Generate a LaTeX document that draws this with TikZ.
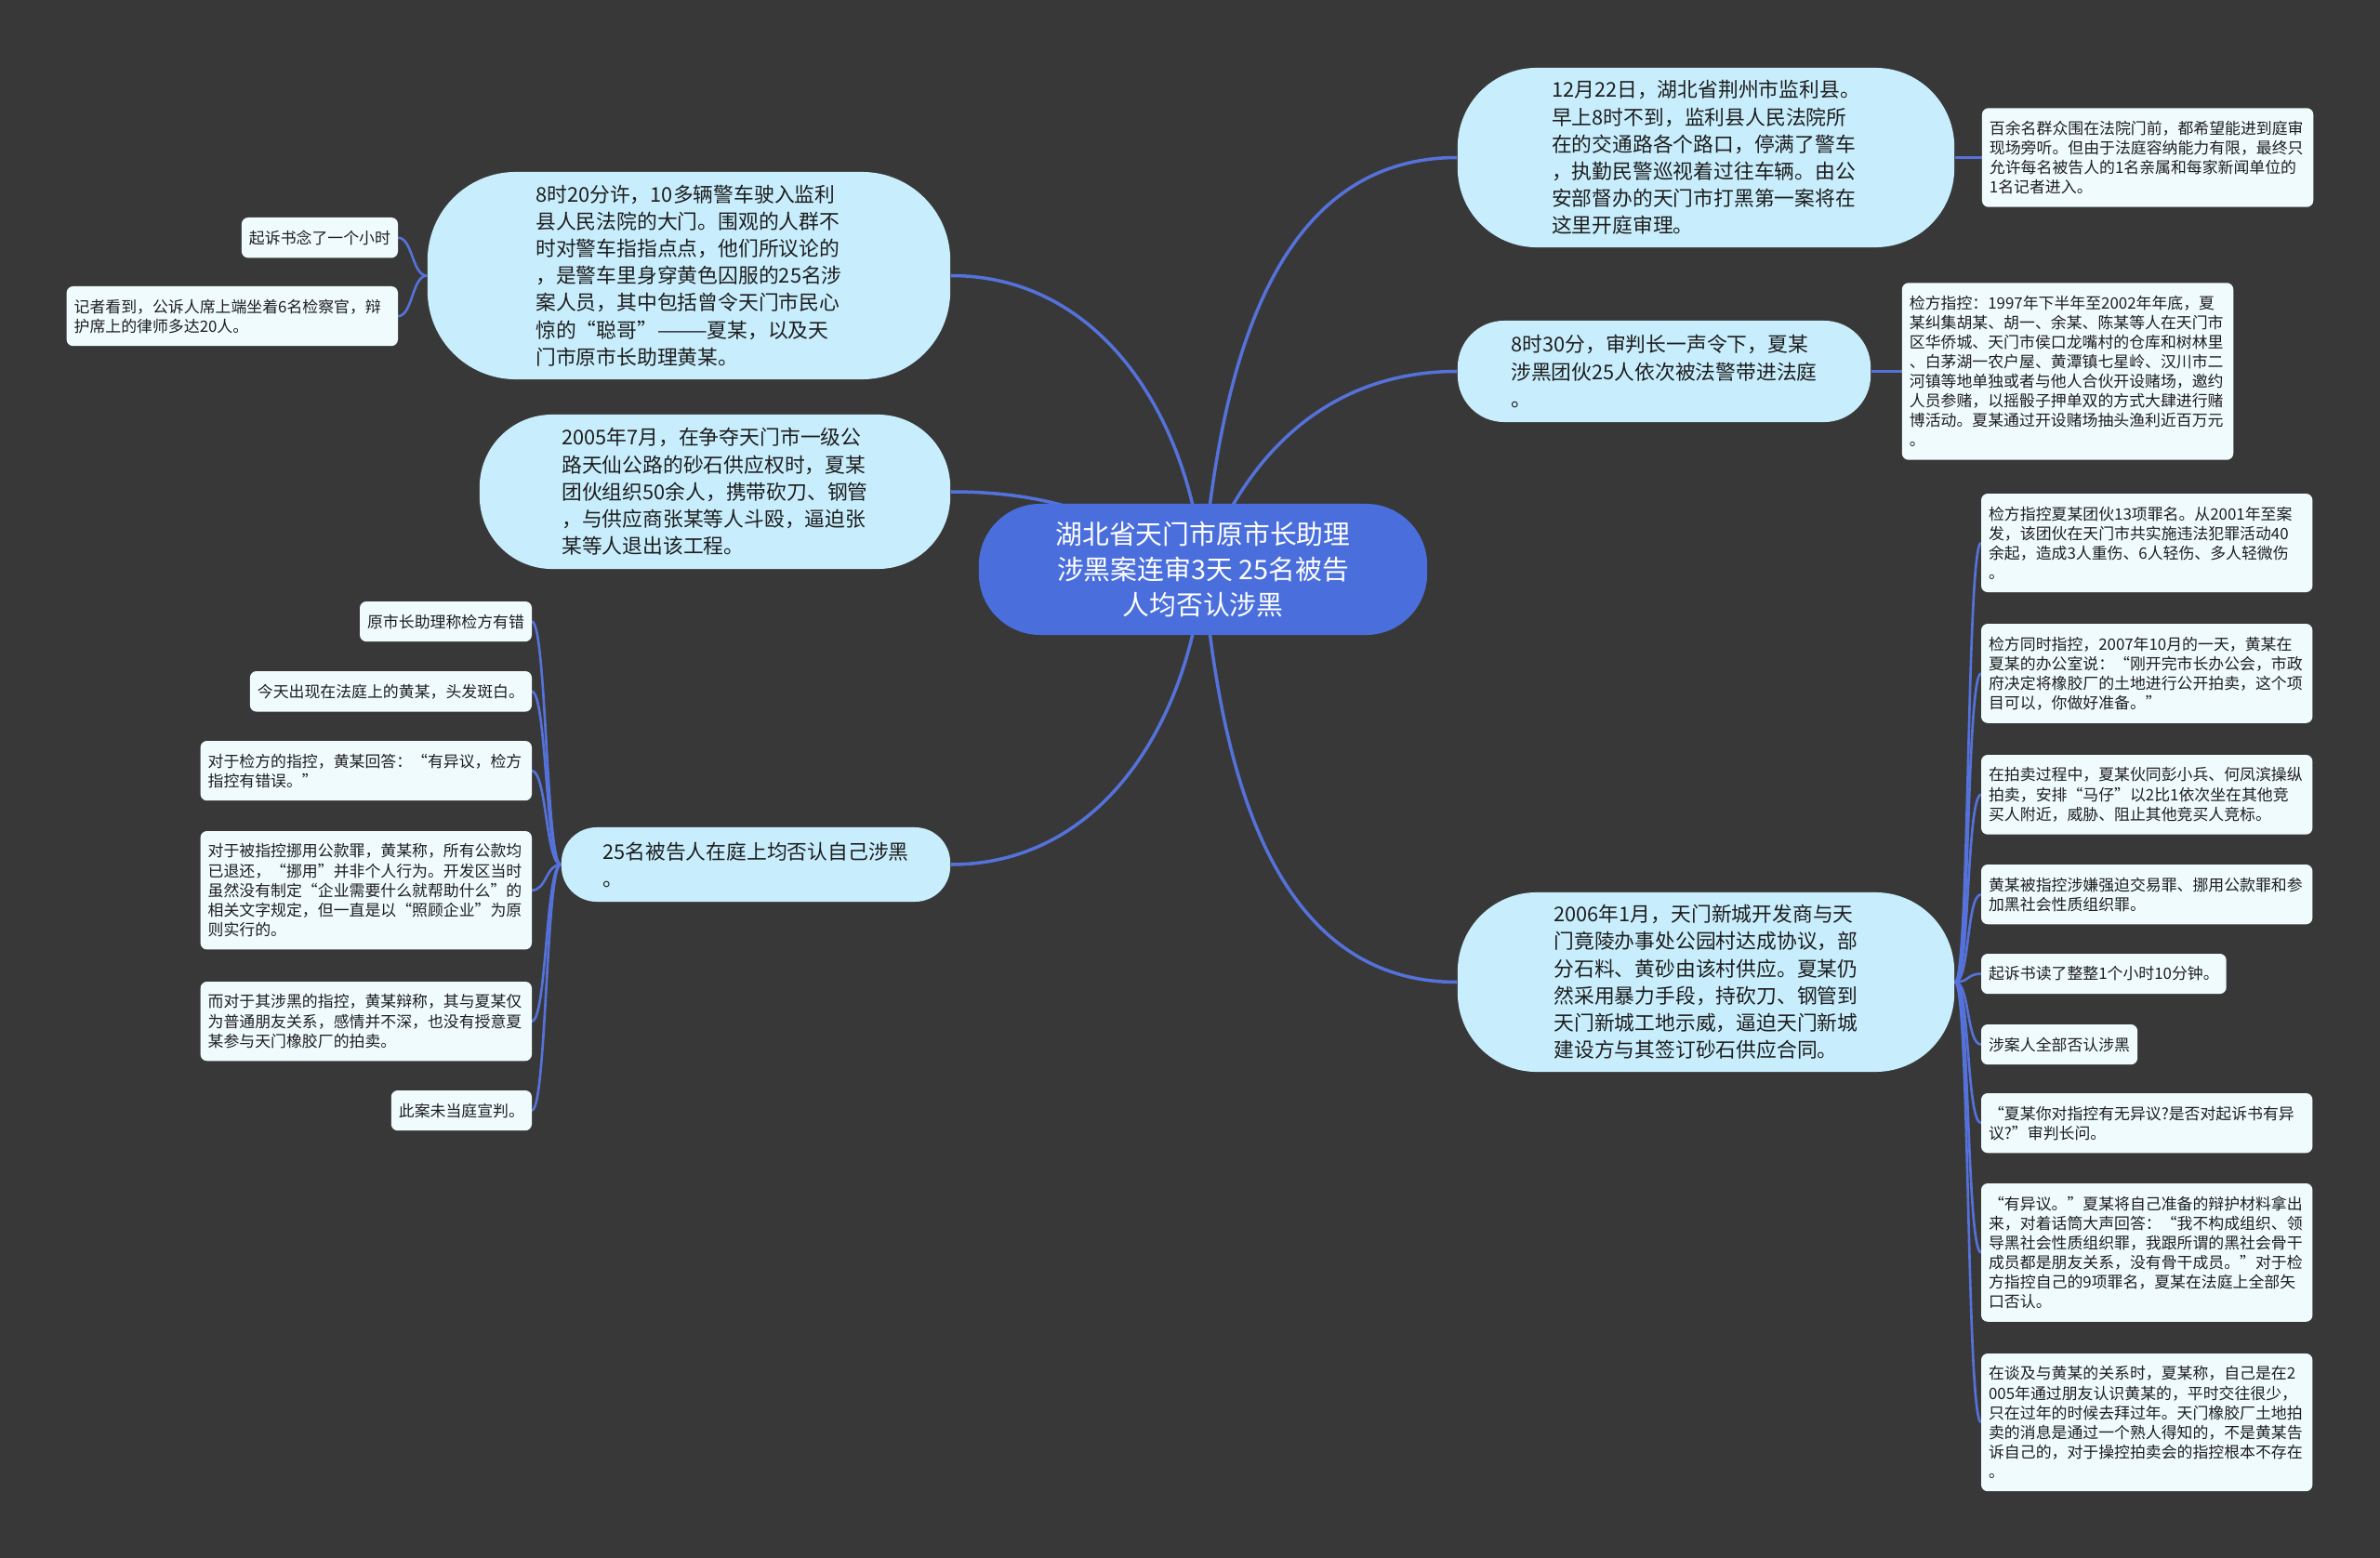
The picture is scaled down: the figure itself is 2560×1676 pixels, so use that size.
\documentclass[tikz,border=0pt]{standalone}
\usepackage{fontspec}
\setmainfont{Noto Sans CJK SC}
\usetikzlibrary{positioning, backgrounds}
\definecolor{BgGray}{HTML}{383838}
\definecolor{RootBlue}{HTML}{4A6FDD}
\definecolor{TopicCyan}{HTML}{C8EEFD}
\definecolor{LeafWhite}{HTML}{F0FBFE}
\definecolor{LinkBlue}{HTML}{5572DA}
\definecolor{InkDark}{HTML}{1E1E1E}
\tikzset{
  rootbox/.style={fill=RootBlue, text=white, rounded corners=0.66cm, align=center,
    minimum width=4.82cm, minimum height=1.41cm, inner sep=0pt,
    font=\fontsize{8.2pt}{10.9pt}\selectfont},
  mbox/.style={fill=TopicCyan, text=InkDark, align=left, inner sep=0pt,
    font=\fontsize{6.2pt}{8.3pt}\selectfont},
  lbox/.style={fill=LeafWhite, text=InkDark, rounded corners=0.07cm, align=left,
    outer sep=0pt, inner xsep=2.3pt, inner ysep=3.9pt, font=\fontsize{4.8pt}{6.0pt}\selectfont},
  wbox/.style={lbox, text width=3.4cm},
  rleaf/.style={anchor=north west},
  lleaf/.style={anchor=north east},
  mlink/.style={draw=LinkBlue, line width=1pt},
  rlink/.style={draw=LinkBlue, line width=0.75pt,
    to path={.. controls +(0.16cm,0cm) and +(-0.16cm,0cm) .. (\tikztotarget)}},
  llink/.style={draw=LinkBlue, line width=0.75pt,
    to path={.. controls +(-0.16cm,0cm) and +(0.16cm,0cm) .. (\tikztotarget)}},
}

\begin{document}
\begin{tikzpicture}[x=0.01cm, y=-0.01cm]
  \useasboundingbox (0,0) rectangle (2560,1676);
  \node[rootbox] (root) at (1294,612.5) {湖北省天门市原市长助理\\涉黑案连审3天 25名被告\\人均否认涉黑};

  % main topics
  \node[mbox, minimum width=5.34cm, minimum height=1.93cm, rounded corners=0.85cm] (r1) at (1835,169.5)
    {12月22日，湖北省荆州市监利县。\\早上8时不到，监利县人民法院所\\在的交通路各个路口，停满了警车\\，执勤民警巡视着过往车辆。由公\\安部督办的天门市打黑第一案将在\\这里开庭审理。};
  \node[mbox, minimum width=4.44cm, minimum height=1.09cm, rounded corners=0.5cm] (r2) at (1790,399.5)
    {8时30分，审判长一声令下，夏某\\涉黑团伙25人依次被法警带进法庭\\。};
  \node[mbox, minimum width=5.34cm, minimum height=1.93cm, rounded corners=0.85cm] (r3) at (1835,1056.5)
    {2006年1月，天门新城开发商与天\\门竟陵办事处公园村达成协议，部\\分石料、黄砂由该村供应。夏某仍\\然采用暴力手段，持砍刀、钢管到\\天门新城工地示威，逼迫天门新城\\建设方与其签订砂石供应合同。};
  \node[mbox, minimum width=5.62cm, minimum height=2.23cm, rounded corners=0.95cm] (l1) at (741,296.5)
    {8时20分许，10多辆警车驶入监利\\县人民法院的大门。围观的人群不\\时对警车指指点点，他们所议论的\\，是警车里身穿黄色囚服的25名涉\\案人员，其中包括曾令天门市民心\\惊的“聪哥”———夏某，以及天\\门市原市长助理黄某。};
  \node[mbox, minimum width=5.06cm, minimum height=1.66cm, rounded corners=0.78cm] (l2) at (769,529)
    {2005年7月，在争夺天门市一级公\\路天仙公路的砂石供应权时，夏某\\团伙组织50余人，携带砍刀、钢管\\，与供应商张某等人斗殴，逼迫张\\某等人退出该工程。};
  \node[mbox, minimum width=4.18cm, minimum height=0.80cm, rounded corners=0.38cm] (l3) at (813,930)
    {25名被告人在庭上均否认自己涉黑\\。};

  % leaves, right side
  \node[wbox, right=0.29cm of r1] (r1a)
    {百余名群众围在法院门前，都希望能进到庭审\\现场旁听。但由于法庭容纳能力有限，最终只\\允许每名被告人的1名亲属和每家新闻单位的\\1名记者进入。};
  \node[wbox, right=0.33cm of r2] (r2a)
    {检方指控：1997年下半年至2002年年底，夏\\某纠集胡某、胡一、余某、陈某等人在天门市\\区华侨城、天门市侯口龙嘴村的仓库和树林里\\、白茅湖一农户屋、黄潭镇七星岭、汉川市二\\河镇等地单独或者与他人合伙开设赌场，邀约\\人员参赌，以摇骰子押单双的方式大肆进行赌\\博活动。夏某通过开设赌场抽头渔利近百万元\\。};
  \node[wbox, rleaf] (r3a) at (2131,531)
    {检方指控夏某团伙13项罪名。从2001年至案\\发，该团伙在天门市共实施违法犯罪活动40\\余起，造成3人重伤、6人轻伤、多人轻微伤\\。};
  \node[wbox, rleaf] (r3b) at (2131,671)
    {检方同时指控，2007年10月的一天，黄某在\\夏某的办公室说：“刚开完市长办公会，市政\\府决定将橡胶厂的土地进行公开拍卖，这个项\\目可以，你做好准备。”};
  \node[wbox, rleaf] (r3c) at (2131,812)
    {在拍卖过程中，夏某伙同彭小兵、何凤滨操纵\\拍卖，安排“马仔”以2比1依次坐在其他竞\\买人附近，威胁、阻止其他竞买人竞标。};
  \node[wbox, rleaf] (r3d) at (2131,930)
    {黄某被指控涉嫌强迫交易罪、挪用公款罪和参\\加黑社会性质组织罪。};
  \node[lbox, rleaf] (r3e) at (2131,1026) {起诉书读了整整1个小时10分钟。};
  \node[lbox, rleaf] (r3f) at (2131,1102) {涉案人全部否认涉黑};
  \node[wbox, rleaf] (r3g) at (2131,1176)
    {“夏某你对指控有无异议?是否对起诉书有异\\议?”审判长问。};
  \node[wbox, rleaf] (r3h) at (2131,1273)
    {“有异议。”夏某将自己准备的辩护材料拿出\\来，对着话筒大声回答：“我不构成组织、领\\导黑社会性质组织罪，我跟所谓的黑社会骨干\\成员都是朋友关系，没有骨干成员。”对于检\\方指控自己的9项罪名，夏某在法庭上全部矢\\口否认。};
  \node[wbox, rleaf] (r3i) at (2131,1456)
    {在谈及与黄某的关系时，夏某称，自己是在2\\005年通过朋友认识黄某的，平时交往很少，\\只在过年的时候去拜过年。天门橡胶厂土地拍\\卖的消息是通过一个熟人得知的，不是黄某告\\诉自己的，对于操控拍卖会的指控根本不存在\\。};

  % leaves, left side
  \node[lbox, lleaf] (l1a) at (428,234) {起诉书念了一个小时};
  \node[wbox, lleaf] (l1b) at (428,308)
    {记者看到，公诉人席上端坐着6名检察官，辩\\护席上的律师多达20人。};
  \node[lbox, lleaf] (l3a) at (572,647) {原市长助理称检方有错};
  \node[lbox, lleaf] (l3b) at (572,722) {今天出现在法庭上的黄某，头发斑白。};
  \node[wbox, lleaf] (l3c) at (572,797)
    {对于检方的指控，黄某回答：“有异议，检方\\指控有错误。”};
  \node[wbox, lleaf] (l3d) at (572,894)
    {对于被指控挪用公款罪，黄某称，所有公款均\\已退还，“挪用”并非个人行为。开发区当时\\虽然没有制定“企业需要什么就帮助什么”的\\相关文字规定，但一直是以“照顾企业”为原\\则实行的。};
  \node[wbox, lleaf] (l3e) at (572,1056)
    {而对于其涉黑的指控，黄某辩称，其与夏某仅\\为普通朋友关系，感情并不深，也没有授意夏\\某参与天门橡胶厂的拍卖。};
  \node[lbox, lleaf] (l3f) at (572,1173) {此案未当庭宣判。};

  \begin{scope}[on background layer]
    \fill[BgGray] (0,0) rectangle (2560,1676);
    \draw[mlink] (root.center) to[out=85,in=180] (r1.west);
    \draw[mlink] (root.center) to[out=70,in=180] (r2.west);
    \draw[mlink] (root.center) to[out=-85,in=180] (r3.west);
    \draw[mlink] (root.center) to[out=95,in=0] (l1.east);
    \draw[mlink] (root.center) to[out=150,in=0] (l2.east);
    \draw[mlink] (root.center) to[out=-95,in=0] (l3.east);
    \draw[rlink] (r1.east) to (r1a.west); \draw[rlink] (r2.east) to (r2a.west);
    \draw[rlink] (r3.east) to (r3a.west); \draw[rlink] (r3.east) to (r3b.west);
    \draw[rlink] (r3.east) to (r3c.west); \draw[rlink] (r3.east) to (r3d.west);
    \draw[rlink] (r3.east) to (r3e.west); \draw[rlink] (r3.east) to (r3f.west);
    \draw[rlink] (r3.east) to (r3g.west); \draw[rlink] (r3.east) to (r3h.west);
    \draw[rlink] (r3.east) to (r3i.west);
    \draw[llink] (l1.west) to (l1a.east); \draw[llink] (l1.west) to (l1b.east);
    \draw[llink] (l3.west) to (l3a.east); \draw[llink] (l3.west) to (l3b.east);
    \draw[llink] (l3.west) to (l3c.east); \draw[llink] (l3.west) to (l3d.east);
    \draw[llink] (l3.west) to (l3e.east); \draw[llink] (l3.west) to (l3f.east);
  \end{scope}
\end{tikzpicture}
\end{document}
